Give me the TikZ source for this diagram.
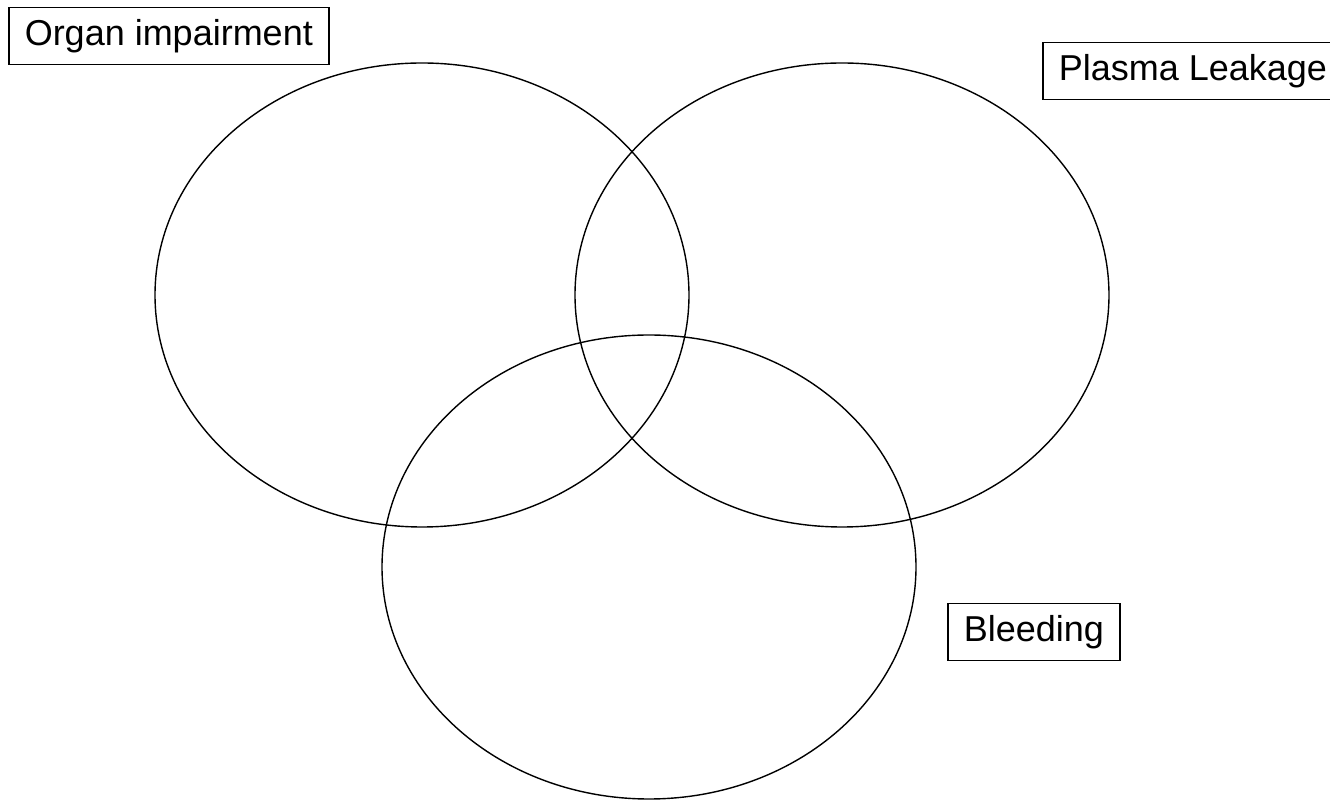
\documentclass[tikz,border=0pt]{standalone}
\usepackage{fontspec}
\setmainfont{Liberation Sans}
\usetikzlibrary{shapes, positioning}
\tikzstyle{conjunto} = [draw, ellipse, line width=0.7pt, inner sep=0pt, minimum width=267pt, minimum height=232pt]
\tikzstyle{rotulo} = [draw, rectangle, line width=0.75pt, inner xsep=8pt, minimum height=28.5pt, font=\fontsize{18}{20}\selectfont]

\begin{document}
\begin{tikzpicture}[x=0.5pt, y=-0.5pt]
	\useasboundingbox (0,0) rectangle (1330,801);
	\node [conjunto] (organ) at (422,295) {};
	\node [conjunto] (plasma) at (842,295) {};
	\node [conjunto] (bleeding) at (649,567) {};
	\node [rotulo, anchor=north west] (organtitle) at (8,7) {Organ impairment};
	\node [rotulo, anchor=north west] (plasmatitle) at (1042,42) {Plasma Leakage};
	\node [rotulo, anchor=north west] (bleedingtitle) at (947,603) {Bleeding};
\end{tikzpicture}
\end{document}
